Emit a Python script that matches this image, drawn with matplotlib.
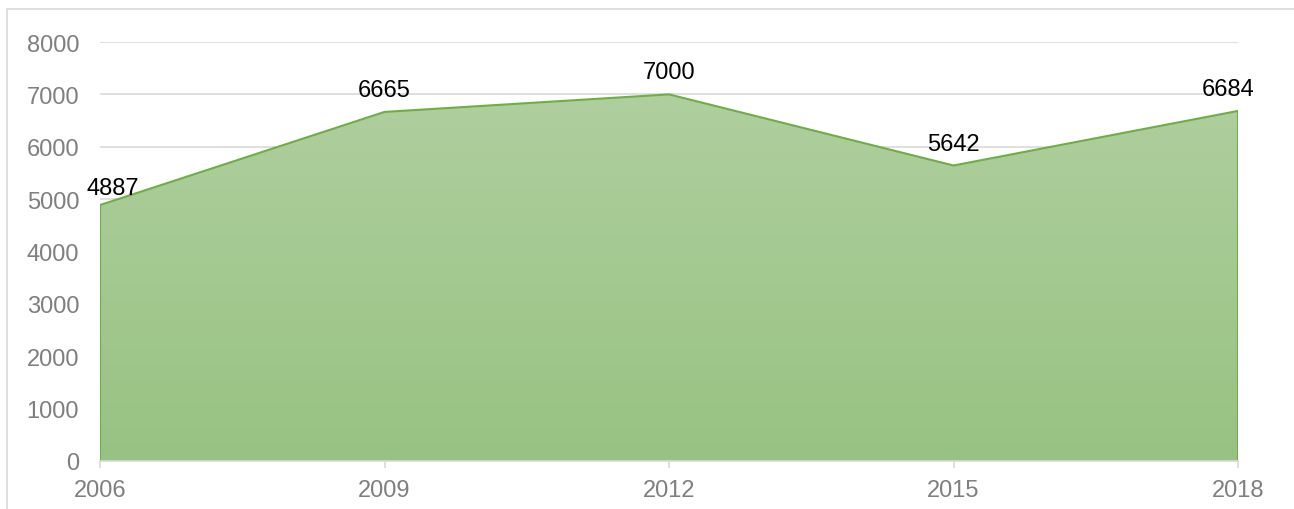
import matplotlib
matplotlib.use("Agg")
import matplotlib.pyplot as plt
import numpy as np
from matplotlib.patches import Polygon, Rectangle
from matplotlib.colors import LinearSegmentedColormap

years = [2006, 2009, 2012, 2015, 2018]
values = [4887, 6665, 7000, 5642, 6684]
y_ticks = [0, 1000, 2000, 3000, 4000, 5000, 6000, 7000, 8000]

plt.rcParams['font.family'] = ['Liberation Sans', 'DejaVu Sans']

W, H = 1294, 510
fig = plt.figure(figsize=(W / 100, H / 100), dpi=100)
ax = fig.add_axes([100 / W, 48 / H, (1238 - 100) / W, (462 - 43) / H])

# outer border
fig.patches.append(Rectangle((7 / W, -0.1), 1.2, (H - 10) / H + 0.1, transform=fig.transFigure,
                             fill=False, edgecolor='#d9d9d9', linewidth=1.2))

ax.set_xlim(years[0], years[-1])
ax.set_ylim(0, 8000)

# gridlines
for t in y_ticks[1:]:
    ax.axhline(t, color='#d9d9d9', linewidth=1.2, zorder=0)

# gradient fill
verts = [(years[0], 0)] + list(zip(years, values)) + [(years[-1], 0)]
poly = Polygon(verts, closed=True, facecolor='none', edgecolor='none')
ax.add_patch(poly)
cmap = LinearSegmentedColormap.from_list('g', ['#98c283', '#afcf9e'])
grad = np.linspace(0, 1, 256).reshape(-1, 1)
im = ax.imshow(grad, cmap=cmap, origin='lower', aspect='auto',
               extent=[years[0], years[-1], 0, max(values)], zorder=1)
im.set_clip_path(poly)
ax.plot(years, values, color='#70ad47', linewidth=1.5, zorder=3)
ax.plot([years[0], years[0]], [0, values[0]], color='#70ad47', linewidth=1.5, zorder=3)
ax.plot([years[-1], years[-1]], [0, values[-1]], color='#70ad47', linewidth=1.5, zorder=3)

# data labels
offsets = [(13, 6), (0, 11), (0, 11), (0, 11), (-10, 11)]
for x, v, (dx, dy) in zip(years, values, offsets):
    ax.annotate(str(v), (x, v), xytext=(dx, dy), textcoords='offset pixels',
                ha='center', va='bottom', fontsize=17, color='#000000', zorder=5)

ax.set_yticks(y_ticks)
ax.set_yticklabels([str(t) for t in y_ticks])
ax.set_xticks(years)
ax.set_xticklabels([str(y) for y in years])
ax.tick_params(axis='y', length=0, pad=15, labelsize=17, labelcolor='#7f7f7f')
ax.tick_params(axis='x', length=5, width=1.2, color='#d9d9d9', pad=8, labelsize=17, labelcolor='#7f7f7f')

for s in ['top', 'right', 'left']:
    ax.spines[s].set_visible(False)
ax.spines['bottom'].set_color('#d9d9d9')
ax.spines['bottom'].set_linewidth(1.2)
ax.spines['bottom'].set_zorder(4)
ax.patch.set_alpha(0)

fig.savefig('out.png', dpi=100)
